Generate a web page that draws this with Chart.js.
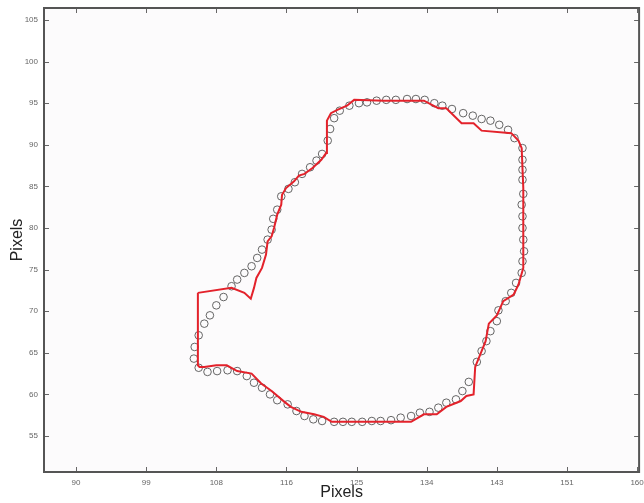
<!DOCTYPE html>
<html>
<head>
<meta charset="utf-8">
<script src="https://cdn.jsdelivr.net/npm/chart.js@4/dist/chart.umd.min.js"></script>
<style>
  html, body { margin: 0; padding: 0; background: #fff; }
  #wrap { width: 644px; height: 503px; }
</style>
</head>
<body>
<div id="wrap"><canvas id="shape" width="644" height="503"></canvas></div>
<script>
// tick values and labels
var xTickValues = [90, 98.75, 107.5, 116.25, 125, 133.75, 142.5, 151.25, 160];
var xTickLabels = ['90', '99', '108', '116', '125', '134', '143', '151', '160'];
var yTickValues = [55, 60, 65, 70, 75, 80, 85, 90, 95, 100, 105];

// red outline (closed)
var outlineX = [105.2, 109.4, 111.0, 111.8, 112.2, 112.5, 113.2, 113.7, 113.9, 114.4, 114.7, 115.1, 115.6, 115.7, 116.2, 117.2, 117.8, 118.5, 119.5, 120.6,
                121.2, 121.3, 121.3, 121.8, 122.6, 123.8, 124.7, 128.4, 133.4, 134.4, 135.2, 136.2, 138.1, 139.6, 140.6, 144.3, 145.2, 145.6, 145.8, 145.8,
                145.2, 144.6, 143.3, 142.5, 141.5, 141.1, 140.6, 139.8, 139.6, 138.7, 138.0, 136.2, 135.0, 133.4, 131.8, 121.9, 120.9, 119.7, 118.1, 116.8,
                116.0, 114.4, 113.1, 111.9, 110.1, 108.8, 107.5, 106.0, 105.4, 105.2, 105.2];
var outlineY = [72.2, 72.8, 72.2, 71.5, 72.8, 74.0, 75.2, 76.8, 78.4, 79.0, 80.0, 81.6, 82.8, 84.0, 84.8, 85.6, 86.3, 86.5, 87.2, 88.2,
                89.0, 90.8, 92.9, 93.8, 94.2, 94.7, 95.4, 95.3, 95.3, 94.8, 94.4, 94.4, 92.6, 92.6, 91.7, 91.4, 90.5, 89.6, 84.8, 75.2,
                73.2, 72.0, 71.2, 69.5, 68.5, 66.4, 65.2, 63.3, 60.0, 59.8, 59.2, 58.5, 57.6, 57.6, 56.7, 56.7, 57.3, 57.6, 57.9, 58.5,
                59.1, 60.4, 61.3, 62.5, 62.8, 63.5, 63.5, 63.3, 63.3, 63.5, 72.2];

// measured points (circles)
var pointX = [115.6, 115.1, 114.6, 114.4, 113.9, 113.2, 112.6, 111.9, 111.0, 110.1, 109.4, 108.4, 107.5, 106.7, 106.0, 105.3, 104.8, 104.7, 105.3, 106.4,
              107.6, 108.9, 110.1, 111.3, 112.2, 113.2, 114.2, 115.1, 116.4, 117.5, 118.5, 119.6, 120.7, 122.2, 123.3, 124.4, 125.7, 126.9, 128.0, 129.3,
              130.5, 131.8, 132.9, 134.1, 135.2, 136.2, 137.4, 138.2, 139.0, 140.0, 140.6, 141.2, 141.7, 142.5, 142.7, 143.6, 144.3, 144.9, 145.6, 145.7,
              145.9, 145.8, 145.7, 145.7, 145.6, 145.8, 145.7, 145.7, 145.7, 145.7, 144.7, 143.9, 142.8, 141.7, 140.6, 139.5, 138.3, 136.9, 135.7, 134.7,
              133.5, 132.4, 131.3, 129.9, 128.7, 127.5, 126.3, 125.3, 124.1, 122.9, 122.2, 121.7, 121.4, 120.7, 120.0, 119.2, 118.2, 117.3, 116.5];
var pointY = [83.8, 82.2, 81.1, 79.8, 78.6, 77.4, 76.4, 75.4, 74.6, 73.8, 73.0, 71.7, 70.7, 69.5, 68.5, 67.1, 65.7, 64.3, 63.2, 62.7,
              62.8, 62.9, 62.8, 62.2, 61.4, 60.8, 60.0, 59.3, 58.8, 58.0, 57.4, 57.0, 56.8, 56.7, 56.7, 56.7, 56.7, 56.8, 56.8, 56.9,
              57.2, 57.4, 57.8, 57.9, 58.4, 59.0, 59.4, 60.4, 61.5, 63.9, 65.2, 66.4, 67.6, 68.8, 70.1, 71.2, 72.2, 73.4, 74.6, 76.0,
              77.2, 78.6, 80.0, 81.4, 82.8, 84.1, 85.8, 87.0, 88.2, 89.6, 90.8, 91.8, 92.4, 92.9, 93.1, 93.5, 93.8, 94.3, 94.7, 95.0,
              95.4, 95.5, 95.5, 95.4, 95.4, 95.3, 95.1, 95.0, 94.7, 94.1, 93.2, 91.9, 90.5, 88.9, 88.1, 87.3, 86.5, 85.5, 84.7];

function zip(xs, ys) {
    return xs.map(function (x, i) { return { x: x, y: ys[i] }; });
}

// frame, background and inward ticks (matlab style)
var framePlugin = {
    id: 'frame',
    beforeDatasetsDraw: function (chart) {
        var a = chart.chartArea, c = chart.ctx;
        c.save();
        c.fillStyle = '#fcfbfc';
        c.fillRect(a.left, a.top, a.right - a.left, a.bottom - a.top);
        c.restore();
    },
    afterDraw: function (chart) {
        var a = chart.chartArea, c = chart.ctx;
        var xs = chart.scales.x, ys = chart.scales.y;
        c.save();
        c.strokeStyle = '#666';
        c.lineWidth = 1;
        c.beginPath();
        xTickValues.forEach(function (v) {
            var px = Math.round(xs.getPixelForValue(v)) + 0.5;
            c.moveTo(px, a.bottom); c.lineTo(px, a.bottom - 5);
            c.moveTo(px, a.top); c.lineTo(px, a.top + 5);
        });
        yTickValues.forEach(function (v) {
            var py = Math.round(ys.getPixelForValue(v)) + 0.5;
            c.moveTo(a.left, py); c.lineTo(a.left + 5, py);
            c.moveTo(a.right, py); c.lineTo(a.right - 5, py);
        });
        c.stroke();
        c.strokeStyle = '#555';
        c.lineWidth = 2;
        c.strokeRect(a.left, a.top, a.right - a.left, a.bottom - a.top);
        c.restore();
    }
};

var ctx = document.getElementById('shape').getContext('2d');
var chart = new Chart(ctx, {
    type: 'scatter',
    data: {
        datasets: [{
            label: 'outline',
            data: zip(outlineX, outlineY),
            showLine: true,
            borderColor: '#e3222b',
            borderWidth: 2,
            pointRadius: 0,
            tension: 0,
            fill: false,
            order: 0
        }, {
            label: 'points',
            data: zip(pointX, pointY),
            showLine: false,
            pointStyle: 'circle',
            pointRadius: 3.8,
            pointBorderWidth: 0.9,
            pointBorderColor: '#555',
            pointBackgroundColor: 'rgba(0,0,0,0)',
            order: 1
        }]
    },
    options: {
        responsive: false,
        animation: false,
        layout: { padding: { top: 8, right: 3, left: 0, bottom: 0 } },
        plugins: { legend: { display: false }, tooltip: { enabled: false } },
        scales: {
            x: {
                type: 'linear',
                min: 86,
                max: 160.25,
                grid: { display: false, drawTicks: false, tickLength: 0 },
                border: { display: false },
                afterBuildTicks: function (s) { s.ticks = xTickValues.map(function (v) { return { value: v }; }); },
                afterFit: function (s) { s.height = 31; s.paddingLeft = 0; s.paddingRight = 0; },
                ticks: {
                    padding: 6,
                    maxRotation: 0,
                    autoSkip: false,
                    color: '#666',
                    font: { family: 'Liberation Sans', size: 8 },
                    callback: function (v, i) { return xTickLabels[i]; }
                },
                title: {
                    display: true,
                    text: 'Pixels',
                    color: '#222',
                    padding: { top: 0, bottom: 1 },
                    font: { family: 'Liberation Sans', size: 16 }
                }
            },
            y: {
                type: 'linear',
                min: 50.67,
                max: 106.44,
                grid: { display: false, drawTicks: false, tickLength: 0 },
                border: { display: false },
                afterBuildTicks: function (s) { s.ticks = yTickValues.map(function (v) { return { value: v }; }); },
                afterFit: function (s) { s.width = 44; s.paddingTop = 0; s.paddingBottom = 0; },
                ticks: {
                    padding: 6,
                    autoSkip: false,
                    color: '#666',
                    font: { family: 'Liberation Sans', size: 8 },
                    callback: function (v) { return String(v); }
                },
                title: {
                    display: true,
                    text: 'Pixels',
                    color: '#222',
                    padding: { top: 8, bottom: 0 },
                    font: { family: 'Liberation Sans', size: 16 }
                }
            }
        }
    },
    plugins: [framePlugin]
});
</script>
</body>
</html>
